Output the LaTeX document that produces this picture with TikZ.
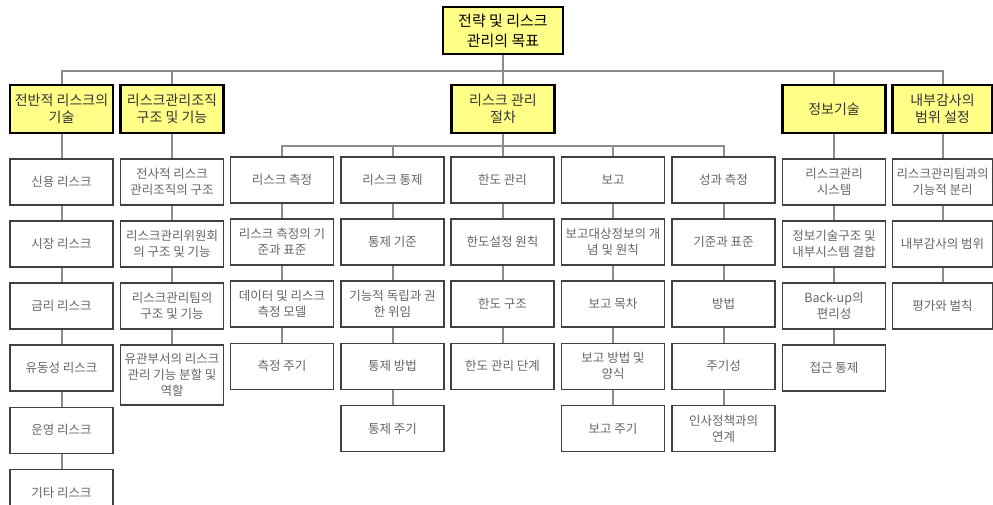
\documentclass[tikz,border=0pt]{standalone}
\usepackage{fontspec}
\setmainfont{Noto Sans CJK KR}
\usetikzlibrary{positioning}

\definecolor{goalfill}{HTML}{FFFF88}
\definecolor{linkgray}{HTML}{8C8C8C}
\definecolor{boxline}{HTML}{404040}

\tikzset{
  goal/.style={draw=black, line width=2.2pt, fill=goalfill, text=black!80,
    align=center, minimum width=103pt, minimum height=48pt, inner sep=1pt,
    font=\fontsize{14}{17.5}\selectfont},
  item/.style={draw=boxline, line width=1.6pt, fill=white, text=black!60,
    align=center, minimum width=103pt, minimum height=46pt, inner sep=1pt,
    font=\fontsize{12.5}{16}\selectfont},
  link/.style={draw=linkgray, line width=2pt},
}

\begin{document}
\begin{tikzpicture}[x=1pt, y=-1pt, node distance=14.5pt]

    \useasboundingbox (0,0) rectangle (993,505);
    \clip (0,0) rectangle (993,505);

    % Nodes

    \node[goal, minimum width=120pt, minimum height=47pt, text=black,
      font=\fontsize{15}{20}\selectfont] (g) at (503,30.5) {전략 및 리스크\\관리의 목표};

    \node[goal] (h1) at (61.5,109) {전반적 리스크의\\기술};
    \node[goal] (h2) at (172,109) {리스크관리조직\\구조 및 기능};
    \node[goal] (h3) at (503,109) {리스크 관리\\절차};
    \node[goal] (h4) at (834,109) {정보기술};
    \node[goal, minimum width=100pt] (h5) at (942.5,109) {내부감사의\\범위 설정};

    \node[item, below=24pt of h1] (r1) {신용 리스크};
    \node[item, below=of r1] (r2) {시장 리스크};
    \node[item, below=of r2] (r3) {금리 리스크};
    \node[item, below=of r3] (r4) {유동성 리스크};
    \node[item, below=of r4] (r5) {운영 리스크};
    \node[item, below=of r5] (r6) {기타 리스크};

    \node[item, below=24pt of h2] (o1) {전사적 리스크\\관리조직의 구조};
    \node[item, below=of o1] (o2) {리스크관리위원회\\의 구조 및 기능};
    \node[item, below=of o2] (o3) {리스크관리팀의\\구조 및 기능};
    \node[item, below=of o3, minimum height=60pt] (o4) {유관부서의 리스크\\관리 기능 분할 및\\역할};

    \node[item] (m1) at (282,180) {리스크 측정};
    \node[item, below=of m1] (m2) {리스크 측정의 기\\준과 표준};
    \node[item, below=of m2] (m3) {데이터 및 리스크\\측정 모델};
    \node[item, below=of m3] (m4) {측정 주기};

    \node[item] (c1) at (392.5,180) {리스크 통제};
    \node[item, below=of c1] (c2) {통제 기준};
    \node[item, below=of c2] (c3) {기능적 독립과 권\\한 위임};
    \node[item, below=of c3] (c4) {통제 방법};
    \node[item, below=of c4] (c5) {통제 주기};

    \node[item] (l1) at (502.5,180) {한도 관리};
    \node[item, below=of l1] (l2) {한도설정 원칙};
    \node[item, below=of l2] (l3) {한도 구조};
    \node[item, below=of l3] (l4) {한도 관리 단계};

    \node[item] (p1) at (613,180) {보고};
    \node[item, below=of p1] (p2) {보고대상정보의 개\\념 및 원칙};
    \node[item, below=of p2] (p3) {보고 목차};
    \node[item, below=of p3] (p4) {보고 방법 및\\양식};
    \node[item, below=of p4] (p5) {보고 주기};

    \node[item] (s1) at (723.5,180) {성과 측정};
    \node[item, below=of s1] (s2) {기준과 표준};
    \node[item, below=of s2] (s3) {방법};
    \node[item, below=of s3] (s4) {주기성};
    \node[item, below=of s4] (s5) {인사정책과의\\연계};

    \node[item, below=24pt of h4] (t1) {리스크관리\\시스템};
    \node[item, below=of t1] (t2) {정보기술구조 및\\내부시스템 결합};
    \node[item, below=of t2] (t3) {Back-up의\\편리성};
    \node[item, below=of t3] (t4) {접근 통제};

    \node[item, below=24pt of h5, minimum width=100pt] (a1) {리스크관리팀과의\\기능적 분리};
    \node[item, below=of a1, minimum width=100pt] (a2) {내부감사의 범위};
    \node[item, below=of a2, minimum width=100pt] (a3) {평가와 벌칙};

    % Edges

    \foreach \h in {h1,h2,h3,h4,h5}
      \draw[link] (g.south) -- ++(0,16) -| (\h.north);
    \foreach \s in {m1,c1,l1,p1,s1}
      \draw[link] (h3.south) -- ++(0,12) -| (\s.north);

    \foreach \a/\b in {h1/r1,r1/r2,r2/r3,r3/r4,r4/r5,r5/r6,
                       h2/o1,o1/o2,o2/o3,o3/o4,
                       m1/m2,m2/m3,m3/m4,
                       c1/c2,c2/c3,c3/c4,c4/c5,
                       l1/l2,l2/l3,l3/l4,
                       p1/p2,p2/p3,p3/p4,p4/p5,
                       s1/s2,s2/s3,s3/s4,s4/s5,
                       h4/t1,t1/t2,t2/t3,t3/t4,
                       h5/a1,a1/a2,a2/a3}
      \draw[link] (\a) -- (\b);

\end{tikzpicture}
\end{document}
